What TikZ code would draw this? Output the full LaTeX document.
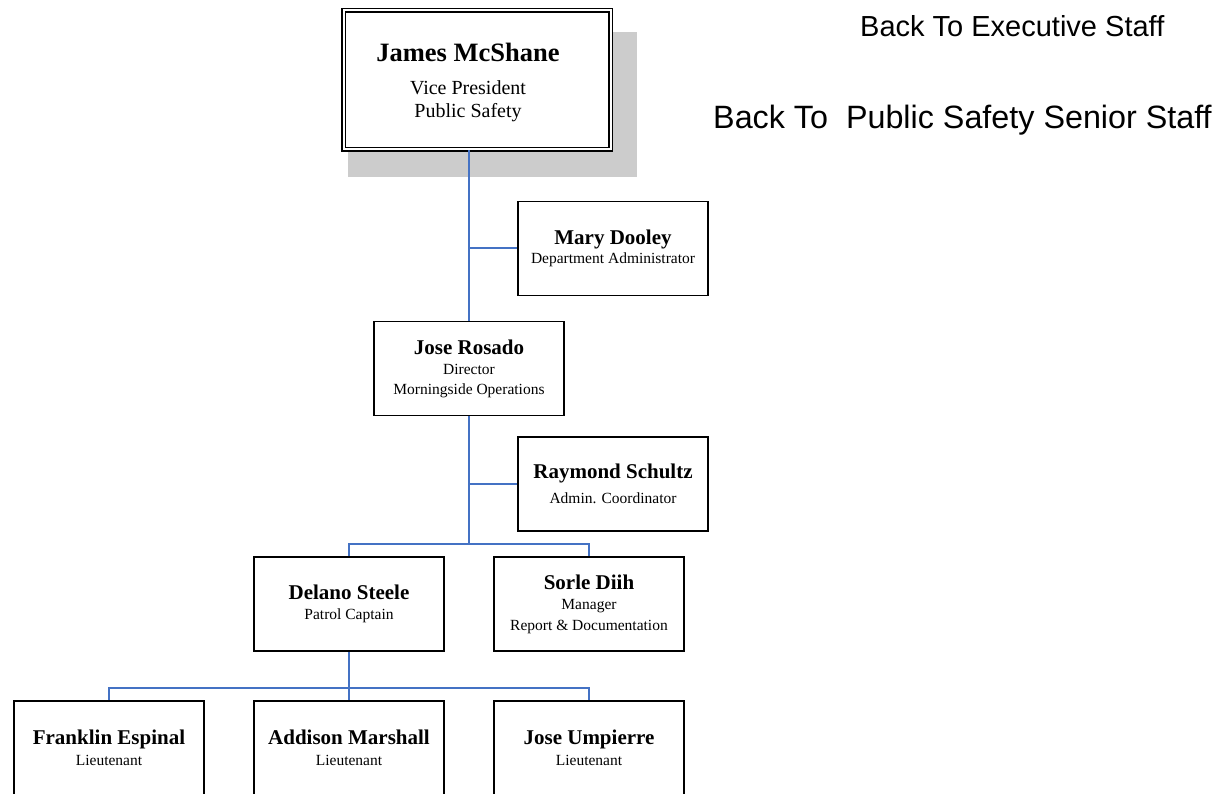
\documentclass[tikz,border=0pt]{standalone}
\usepackage{fontspec}
\setmainfont{Liberation Serif}
\setsansfont{Liberation Sans}
\usetikzlibrary{positioning}
\definecolor{linkblue}{RGB}{68,114,196}
\definecolor{shadowgray}{RGB}{204,204,204}

\begin{document}
\begin{tikzpicture}[x=1pt,y=-1pt,
  box/.style={draw,line width=1.8pt,fill=white,minimum width=190pt,minimum height=94pt,
    align=center,inner sep=2pt,font=\fontsize{15.5}{18.5}\selectfont},
  chief/.style={draw,line width=1.6pt,double,double distance=2pt,fill=white,
    minimum width=267pt,minimum height=139pt,font=\fontsize{20}{23}\selectfont},
  link/.style={linkblue,line width=2pt},
  backlink/.style={font=\sffamily,anchor=base west,inner sep=0pt}]
  \useasboundingbox (0,0) rectangle (1220,794);
  \fill[shadowgray] (348,32) rectangle (637,177);
  \node[chief] (vp) at (477,80) {\begin{tabular}{@{}c@{}}\rule{0pt}{25pt}{\bfseries\fontsize{26.5}{28}\selectfont James McShane}\\[10pt]Vice President\\Public Safety\end{tabular}\hspace*{18pt}};
  \node[backlink,font=\sffamily\fontsize{29}{34}\selectfont] (exec) at (860,37) {Back To Executive Staff};
  \node[backlink,font=\sffamily\fontsize{32.3}{38}\selectfont] (senior) at (713,129) {Back To\ \ Public Safety Senior Staff};
  \node[box] (dooley) at (613,248.5) {{\bfseries\fontsize{21}{24}\selectfont Mary Dooley}\\[1pt]Department Administrator};
  \node[box] (rosado) at (469,368.5) {{\bfseries\fontsize{21}{24}\selectfont Jose Rosado}\\[2pt]Director\\[1pt]Morningside Operations};
  \node[box] (schultz) at (613,484) {{\bfseries\fontsize{21}{24}\selectfont Raymond Schultz}\\[6pt]Admin. Coordinator};
  \node[box] (steele) at (349,604) {{\bfseries\fontsize{21}{24}\selectfont Delano Steele}\\[2pt]Patrol Captain};
  \node[box] (diih) at (589,604) {{\bfseries\fontsize{21}{24}\selectfont Sorle Diih}\\[2pt]Manager\\[2pt]Report \& Documentation};
  \node[box] (espinal) at (109,748) {{\bfseries\fontsize{21}{24}\selectfont Franklin Espinal}\\[2pt]Lieutenant};
  \node[box] (marshall) at (349,748) {{\bfseries\fontsize{21}{24}\selectfont Addison Marshall}\\[2pt]Lieutenant};
  \node[box] (umpierre) at (589,748) {{\bfseries\fontsize{21}{24}\selectfont Jose Umpierre}\\[2pt]Lieutenant};
  \coordinate (bus1) at (469,544);
  \coordinate (bus2) at (349,688);
  \draw[link] (rosado.north |- vp.south) -- (rosado.north);
  \draw[link] (rosado.north |- dooley.west) -- (dooley.west);
  \draw[link] (rosado.south) -- (bus1);
  \draw[link] (rosado.south |- schultz.west) -- (schultz.west);
  \draw[link] (steele.north) |- (bus1) -| (diih.north);
  \draw[link] (steele.south) -- (bus2);
  \draw[link] (espinal.north) |- (bus2) -| (umpierre.north);
  \draw[link] (bus2) -- (marshall.north);
\end{tikzpicture}
\end{document}
